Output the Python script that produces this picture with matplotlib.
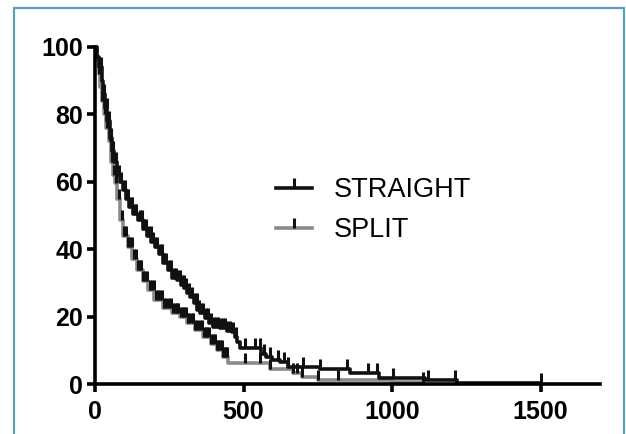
import numpy as np
import matplotlib
matplotlib.use("Agg")
import matplotlib.pyplot as plt
from matplotlib.lines import Line2D
from matplotlib.patches import Rectangle

plt.rcParams["font.family"] = ["Liberation Sans", "DejaVu Sans"]

# Kaplan-Meier steps (time, % remaining)
straight_t = [0, 8, 15, 22, 28, 35, 42, 50, 58, 65, 75, 85, 94, 105, 115, 128, 145,
              160, 175, 190, 202, 215, 230, 246, 258, 276, 290, 300, 310, 320, 332,
              345, 354, 370, 385, 397, 420, 445, 461, 470, 478, 488, 560, 575, 596,
              623, 650, 758, 860, 955, 1110, 1220, 1500]
straight_s = [100, 97, 94, 90, 86, 82, 78, 73, 69, 66, 62, 60, 57.6, 55, 52.5, 50.5, 48.7,
              46, 44, 42, 40.7, 38.5, 36, 33.8, 31.5, 30.9, 29.5, 28.5, 27, 25.8, 24,
              22, 21, 19.5, 18, 17, 16.5, 15.8, 15.4, 14, 12.5, 10.7, 9, 8, 7.1,
              6.5, 5.0, 4.4, 3.4, 1.9, 1.2, 0.3, 0.3]
straight_cens = [20, 30, 40, 48, 55, 62, 70, 80, 88, 100, 108, 112, 120, 125, 133, 138,
                 150, 158, 165, 172, 180, 188, 195, 203, 210, 218, 225, 232, 238, 248,
                 255, 265, 272, 280, 286, 292, 298, 305, 315, 325, 338, 344, 350, 358,
                 365, 375, 380, 390, 400, 408, 415, 423, 430, 438, 445, 455, 465, 475,
                 505, 540, 556, 570, 590, 615, 635, 650, 700, 758, 848, 919, 949, 1003,
                 1121, 1212, 1500]

split_t = [0, 6, 12, 18, 24, 30, 38, 46, 55, 62, 67, 75, 84, 95, 111, 125, 141, 160,
           178, 200, 230, 260, 286, 310, 335, 364, 390, 410, 430, 448, 589, 667, 697,
           751, 1000, 1104]
split_s = [100, 96, 92, 88, 84, 80, 76, 72, 66, 62, 59.6, 55, 48.7, 44, 40.7, 37, 33.8,
           30.5, 27.9, 25, 22.5, 21, 20, 18, 16, 14, 12, 10, 8, 6.2, 4.5, 3.4, 2.1,
           1.2, 0.7, 0.7]
split_cens = [15, 25, 33, 40, 50, 58, 65, 72, 80, 90, 98, 105, 112, 118, 124, 130, 138,
              145, 150, 155, 162, 168, 175, 185, 192, 198, 205, 212, 218, 225, 232, 240,
              248, 255, 262, 268, 275, 280, 288, 295, 300, 305, 312, 318, 325, 330, 338,
              345, 352, 360, 366, 372, 378, 385, 392, 398, 404, 410, 415, 420, 426, 432,
              436, 440, 444, 505, 556, 589, 667, 680, 697, 751, 818, 1104]


def step_at(ts, ss, x):
    i = np.searchsorted(ts, x, side="right") - 1
    return np.array(ss)[i]


fig = plt.figure(figsize=(6.26, 4.34), dpi=100)
ax = fig.add_axes([95 / 626, 50 / 434, 505 / 626, 337 / 434])

ax.plot(split_t, split_s, drawstyle="steps-post", color="#8a8a8a", lw=2.6, clip_on=False)
ax.plot(straight_t, straight_s, drawstyle="steps-post", color="#111111", lw=2.6, clip_on=False)
ax.plot(split_cens, step_at(split_t, split_s, split_cens), ls="none", marker=2,
        ms=7, mew=2.2, color="#111111", clip_on=False)
ax.plot(straight_cens, step_at(straight_t, straight_s, straight_cens), ls="none", marker=2,
        ms=7, mew=2.2, color="#111111", clip_on=False)

ax.set_xlim(0, 1700)
ax.set_ylim(0, 100)
ax.set_xticks([0, 500, 1000, 1500])
ax.set_yticks([0, 20, 40, 60, 80, 100])
for s in ["top", "right"]:
    ax.spines[s].set_visible(False)
for s in ["left", "bottom"]:
    ax.spines[s].set_linewidth(2.6)
ax.tick_params(direction="out", length=5.5, width=2.6, labelsize=18)
ax.tick_params(axis="y", pad=3)
ax.tick_params(axis="x", pad=6)
for lab in ax.get_xticklabels() + ax.get_yticklabels():
    lab.set_fontweight("bold")

handles = [Line2D([0], [0], color="#111111", lw=2.6, marker=2, ms=7, mew=2.2, mec="#111111"),
           Line2D([0], [0], color="#8a8a8a", lw=2.6, marker=2, ms=7, mew=2.2, mec="#111111")]
ax.legend(handles, ["STRAIGHT", "SPLIT"], loc="upper left", bbox_to_anchor=(0.311, 0.6855),
          frameon=False, fontsize=19.5, handlelength=1.33, handletextpad=0.78,
          labelspacing=0.52, numpoints=1)

fig.patches.append(Rectangle((14 / 626, -0.1), 610 / 626, 1.1 - 8 / 434,
                             transform=fig.transFigure, fill=False,
                             edgecolor="#4a9fd8", lw=1.5))

fig.savefig("out.png", dpi=100)
